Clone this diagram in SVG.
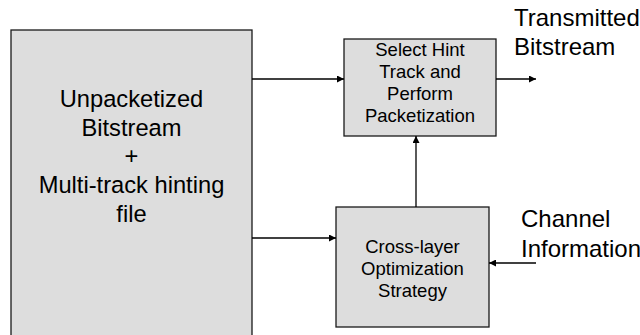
<svg xmlns="http://www.w3.org/2000/svg" width="640" height="335" viewBox="0 0 640 335">
<defs>
<marker id="ah" viewBox="0 0 10 10" refX="10" refY="5" markerWidth="8" markerHeight="7" markerUnits="userSpaceOnUse" orient="auto">
<path d="M0,0 L10,5 L0,10 z" fill="#000"/>
</marker>
<style>
.box{fill:#dddddd;stroke:#1a1a1a;stroke-width:1.3}
.big{font-family:"Liberation Sans",Arial,sans-serif;font-size:23.7px;fill:#000}
.lbl{font-family:"Liberation Sans",Arial,sans-serif;font-size:24px;fill:#000}
.sm{font-family:"Liberation Sans",Arial,sans-serif;font-size:18.5px;fill:#000;text-anchor:middle}
.c{text-anchor:middle}
.ln{stroke:#000;stroke-width:1.3;fill:none}
</style>
</defs>
<rect width="640" height="335" fill="#fff"/>
<g id="source">
<rect class="box" x="11" y="30" width="241" height="320"/>
<text class="big c" x="131.5" y="107">Unpacketized</text>
<text class="big c" x="131.5" y="135.7">Bitstream</text>
<text class="big c" x="131.5" y="164.4">+</text>
<text class="big c" x="131.5" y="193.1">Multi-track hinting</text>
<text class="big c" x="131.5" y="221.8">file</text>
</g>
<g id="packetize">
<rect class="box" x="344" y="39" width="152" height="97"/>
<text class="sm" x="420" y="56">Select Hint</text>
<text class="sm" x="420" y="77.5">Track and</text>
<text class="sm" x="420" y="99.5">Perform</text>
<text class="sm" x="420" y="121.5">Packetization</text>
</g>
<g id="optimization">
<rect class="box" x="336" y="207" width="153" height="120"/>
<text class="sm" x="412.5" y="252.5">Cross-layer</text>
<text class="sm" x="412.5" y="274.5">Optimization</text>
<text class="sm" x="412.5" y="296.5">Strategy</text>
</g>
<g id="transmitted">
<text class="lbl" x="514" y="26">Transmitted</text>
<text class="lbl" x="514" y="55">Bitstream</text>
</g>
<g id="channel">
<text class="lbl" x="521" y="227">Channel</text>
<text class="lbl" x="521" y="256.5">Information</text>
</g>
<g id="connectors">
<line class="ln" x1="252" y1="79" x2="344" y2="79" marker-end="url(#ah)"/>
<line class="ln" x1="496" y1="79" x2="536" y2="79" marker-end="url(#ah)"/>
<line class="ln" x1="416" y1="207" x2="416" y2="136" marker-end="url(#ah)"/>
<line class="ln" x1="252" y1="238" x2="336" y2="238" marker-end="url(#ah)"/>
<line class="ln" x1="536" y1="263" x2="489" y2="263" marker-end="url(#ah)"/>
</g>
</svg>
